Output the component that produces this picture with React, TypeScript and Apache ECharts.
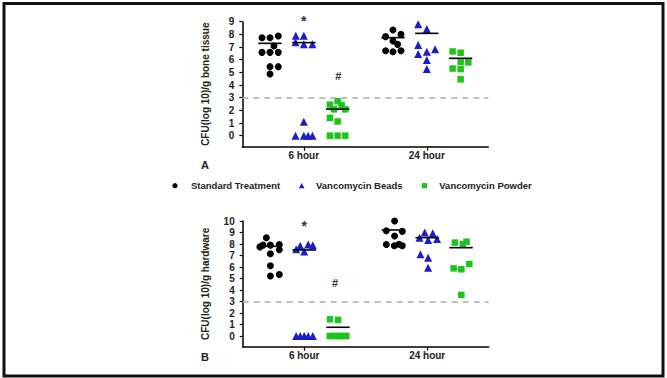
import React, { useEffect, useRef } from 'react';
import * as echarts from 'echarts';

// ---------- data ----------
const timepoints = ['6 hour', '24 hour'];
const treatments = ['Standard Treatment', 'Vancomycin Beads', 'Vancomycin Powder'];
const boneTicks = [0, 1, 2, 3, 4, 5, 6, 7, 8, 9];
const hardwareTicks = [0, 1, 2, 3, 4, 5, 6, 7, 8, 9, 10];
const detectionLimit = 3;

// Panel A: CFU (log10)/g bone tissue  [6 hour, 24 hour]
const boneStandard = [
  [7.73, 7.73, 7.87, 7.08, 6.58, 6.58, 6.58, 5.45, 5.45, 4.87],
  [8.34, 7.82, 8.0, 7.47, 7.21, 6.71, 6.63, 6.71],
];
const boneStandardJitter = [
  [-0.26, 0, 0.27, 0.13, -0.26, 0, 0.27, 0, 0.27, 0],
  [0, -0.24, 0.26, 0, 0.15, -0.24, 0, 0.26],
];
const boneBeads = [
  [7.89, 7.89, 7.37, 7.21, 7.21, 1.1, 0, 0, 0, 0],
  [8.79, 8.42, 7.16, 6.82, 6.63, 6.45, 5.97, 5.26],
];
const boneBeadsJitter = [
  [-0.26, 0, -0.27, 0, 0.28, 0, -0.27, 0, 0.14, 0.28],
  [-0.28, 0, -0.28, 0.27, 0, -0.28, 0, 0],
];
const bonePowder = [
  [2.72, 2.45, 2.42, 2.08, 2.08, 1.4, 1.12, 0, 0, 0],
  [6.65, 6.55, 5.82, 5.79, 5.3, 5.26, 4.45],
];
const bonePowderJitter = [
  [0, -0.25, 0.13, -0.12, 0.25, -0.25, 0, -0.25, 0, 0.25],
  [-0.26, 0, 0, 0.25, -0.26, 0, 0],
];
const boneLines = [
  [7.29, 7.35, 2.1],
  [7.74, 8.08, 6.11],
];
const boneMarks = ['*', '#'];
const boneMarkAt = [
  [2, 9.27],
  [3.12, 4.71],
];

// Panel B: CFU (log10)/g hardware  [6 hour, 24 hour]
const hardwareStandard = [
  [8.55, 7.9, 7.75, 7.9, 7.95, 7.5, 7.15, 6.11, 5.22, 5.35],
  [10.0, 9.15, 9.1, 8.7, 7.95, 7.85, 7.98, 7.85],
];
const hardwareStandardJitter = [
  [-0.13, -0.24, -0.34, 0, 0.29, 0.29, 0, 0, 0, 0.29],
  [0.04, -0.23, 0.29, 0.04, -0.23, 0.03, 0.18, 0.29],
];
const hardwareBeads = [
  [7.55, 7.85, 7.35, 7.95, 7.9, 0, 0, 0, 0, 0],
  [9.01, 8.93, 8.55, 8.35, 8.43, 7.1, 6.81, 5.94],
];
const hardwareBeadsJitter = [
  [-0.26, -0.13, 0, 0.13, 0.28, -0.26, -0.13, 0, 0.13, 0.28],
  [-0.08, 0.18, -0.25, 0.03, 0.32, -0.22, 0.03, 0.03],
];
const hardwarePowder = [
  [1.45, 1.4, 0, 0, 0, 0, 0, 0],
  [8.12, 8.0, 8.2, 5.88, 5.8, 6.26, 3.57],
];
const hardwarePowderJitter = [
  [-0.26, 0, -0.27, -0.15, -0.04, 0.08, 0.19, 0.27],
  [-0.2, 0.06, 0.18, -0.24, 0.01, 0.27, 0.01],
];
const hardwareLines = [
  [7.8, 7.48, 0.76],
  [9.22, 8.55, 7.68],
];
const hardwareMarks = ['*', '#'];
const hardwareMarkAt = [
  [2, 9.85],
  [3.0, 4.63],
];

// ---------- styling ----------
const FONT = '"Liberation Sans", Arial, sans-serif';
const COLORS = ['#000000', '#1c1cc8', '#1cc41c'];
const SYMBOLS = ['circle', 'triangle', 'rect'];
const SIZES = [7, 8, 6.5];
const TEXT = '#222222';

function groupX(t: number, s: number) {
  return 2 + 4 * t + (s - 1) * 1.1;
}

function points(values: number[][], jitter: number[][], s: number) {
  const out: number[][] = [];
  values.forEach((arr, t) =>
    arr.forEach((v, i) => out.push([groupX(t, s) + jitter[t][i], v]))
  );
  return out;
}

function panelSeries(
  p: number,
  groups: { values: number[][]; jitter: number[][] }[],
  lines: number[][],
  marks: string[],
  markAt: number[][]
) {
  const series: any[] = [];
  groups.forEach((g, s) => {
    const ser: any = {
      type: 'scatter',
      name: treatments[s],
      xAxisIndex: p,
      yAxisIndex: p,
      symbol: SYMBOLS[s],
      symbolSize: SIZES[s],
      itemStyle: { color: COLORS[s], opacity: 1 },
      data: points(g.values, g.jitter, s),
      z: 3,
    };
    if (s === 0) {
      ser.markLine = {
        silent: true,
        symbol: 'none',
        label: { show: false },
        lineStyle: { color: '#aaaaaa', type: [6, 5], width: 1.5 },
        data: [{ yAxis: detectionLimit }],
      };
    }
    series.push(ser);
  });
  const lineData: number[][] = [];
  lines.forEach((row, t) => row.forEach((v, s) => lineData.push([groupX(t, s), v])));
  series.push({
    type: 'custom',
    xAxisIndex: p,
    yAxisIndex: p,
    data: lineData,
    z: 4,
    renderItem: (params: any, api: any) => {
      const x = api.value(0);
      const y = api.value(1);
      const a = api.coord([x - 0.38, y]);
      const b = api.coord([x + 0.38, y]);
      return {
        type: 'line',
        shape: { x1: a[0], y1: a[1], x2: b[0], y2: b[1] },
        style: { stroke: '#000', lineWidth: 1.6 },
      };
    },
  });
  series.push({
    type: 'custom',
    xAxisIndex: p,
    yAxisIndex: p,
    clip: false,
    data: markAt,
    z: 4,
    renderItem: (params: any, api: any) => {
      const c = api.coord([api.value(0), api.value(1)]);
      const txt = marks[params.dataIndex];
      const isStar = txt === '*';
      return {
        type: 'text',
        x: c[0],
        y: c[1] + (isStar ? 3 : 0),
        style: {
          text: txt,
          align: 'center',
          verticalAlign: 'middle',
          fill: '#333',
          font: `${isStar ? 'bold 14px' : 'bold 11px'} ${FONT}`,
        },
      };
    },
  });
  return series;
}

function xAxis(p: number) {
  return {
    gridIndex: p,
    type: 'value',
    min: 0,
    max: 8,
    axisLine: { show: true, onZero: false, lineStyle: { color: '#000', width: 1.5 } },
    axisTick: { show: true, length: 4, customValues: [2, 6], lineStyle: { color: '#000', width: 1.2 } },
    axisLabel: {
      customValues: [2, 6],
      formatter: (v: number) => timepoints[Math.round((v - 2) / 4)],
      margin: 4,
      fontSize: 10,
      fontWeight: 'bold',
      fontFamily: FONT,
      color: TEXT,
    },
    splitLine: { show: false },
  };
}

function yAxis(p: number, min: number, max: number, ticks: number[], name: string) {
  return {
    gridIndex: p,
    type: 'value',
    min,
    max,
    name,
    nameLocation: 'middle',
    nameGap: 32,
    nameTextStyle: { fontSize: 10, fontWeight: 'bold', fontFamily: FONT, color: TEXT },
    axisLine: { show: true, onZero: false, lineStyle: { color: '#000', width: 1.5 } },
    axisTick: { show: true, length: 3, customValues: ticks, lineStyle: { color: '#000', width: 1.2 } },
    axisLabel: {
      customValues: ticks,
      margin: 8,
      fontSize: 10,
      fontWeight: 'bold',
      fontFamily: FONT,
      color: TEXT,
    },
    splitLine: { show: false },
  };
}

const legendY = 185.7;
const legendText = (x: number, text: string) => ({
  type: 'text',
  x,
  y: legendY,
  style: {
    text,
    fill: TEXT,
    font: `bold 9.5px ${FONT}`,
    verticalAlign: 'middle',
    align: 'left',
  },
});

export default function App() {
  const ref = useRef<HTMLDivElement>(null);
  useEffect(() => {
    if (!ref.current) return;
    const chart = echarts.init(ref.current, null, { renderer: 'svg' });
    const option: any = {
      animation: false,
      backgroundColor: '#ffffff',
      grid: [
        { left: 242.3, top: 21.7, width: 246, height: 125 },
        { left: 242.7, top: 221, width: 246, height: 125.7 },
      ],
      xAxis: [xAxis(0), xAxis(1)],
      yAxis: [
        yAxis(0, -0.87, 9, boneTicks, 'CFU(log 10)/g bone tissue'),
        yAxis(1, -0.93, 10, hardwareTicks, 'CFU(log 10)/g hardware'),
      ],
      series: [
        ...panelSeries(
          0,
          [
            { values: boneStandard, jitter: boneStandardJitter },
            { values: boneBeads, jitter: boneBeadsJitter },
            { values: bonePowder, jitter: bonePowderJitter },
          ],
          boneLines,
          boneMarks,
          boneMarkAt
        ),
        ...panelSeries(
          1,
          [
            { values: hardwareStandard, jitter: hardwareStandardJitter },
            { values: hardwareBeads, jitter: hardwareBeadsJitter },
            { values: hardwarePowder, jitter: hardwarePowderJitter },
          ],
          hardwareLines,
          hardwareMarks,
          hardwareMarkAt
        ),
      ],
      graphic: [
        {
          type: 'rect',
          shape: { x: 4, y: 3.5, width: 659, height: 372.5 },
          style: { fill: 'none', stroke: '#111', lineWidth: 3 },
          silent: true,
        },
        {
          type: 'text',
          x: 205,
          y: 165,
          style: { text: 'A', fill: TEXT, font: `bold 11px ${FONT}`, align: 'center', verticalAlign: 'middle' },
        },
        {
          type: 'text',
          x: 205,
          y: 356.7,
          style: { text: 'B', fill: TEXT, font: `bold 11px ${FONT}`, align: 'center', verticalAlign: 'middle' },
        },
        { type: 'circle', shape: { cx: 175, cy: legendY, r: 2.6 }, style: { fill: COLORS[0] } },
        {
          type: 'polygon',
          shape: { points: [[298.9, legendY + 2.6], [304.5, legendY + 2.6], [301.7, legendY - 2.8]] },
          style: { fill: COLORS[1] },
        },
        { type: 'rect', shape: { x: 421.8, y: legendY - 2.6, width: 5.2, height: 5.2 }, style: { fill: COLORS[2] } },
        legendText(191, treatments[0]),
        legendText(316, treatments[1]),
        legendText(439.3, treatments[2]),
      ],
    };
    chart.setOption(option);
    return () => chart.dispose();
  }, []);
  return (
    <div
      ref={ref}
      style={{ position: 'absolute', left: 0, top: 0, width: 667, height: 378, background: '#fff' }}
    />
  );
}
